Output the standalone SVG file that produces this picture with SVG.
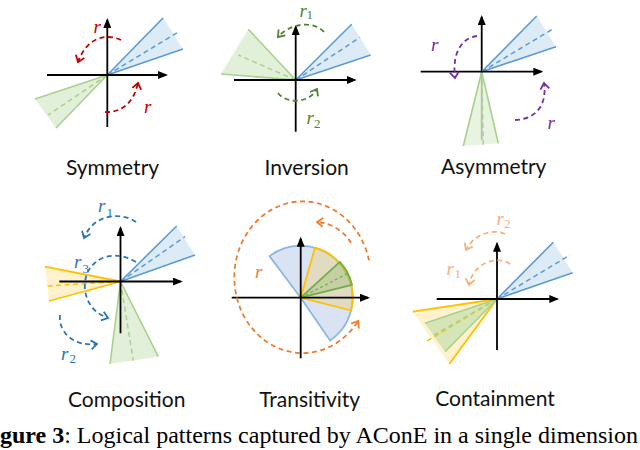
<svg xmlns="http://www.w3.org/2000/svg" width="640" height="450" viewBox="0 0 640 450">
<style>
.ax{stroke:#000;stroke-width:1.8;fill:none;marker-end:url(#axh)}
.bl{fill:#ddebf7;stroke:none}
.ble{stroke:#5b9bd5;stroke-width:1.6;fill:none}
.bld{stroke:#5b9bd5;stroke-width:1.5;fill:none;stroke-dasharray:5 3.5}
.gr{fill:#e2f0d9;stroke:none}
.gre{stroke:#a9d18e;stroke-width:1.6;fill:none}
.grd{stroke:#a9d18e;stroke-width:1.5;fill:none;stroke-dasharray:5 3.5}
.ye{fill:#fff2cc;stroke:none}
.yee{stroke:#ffc000;stroke-width:1.8;fill:none}
.yed{stroke:#ffc000;stroke-width:1.5;fill:none;stroke-dasharray:5 3.5}
.arc{fill:none;stroke-width:1.8;stroke-dasharray:5 3.5}
.lbl{font-family:Lato,"Liberation Sans",sans-serif;font-size:21px;fill:#111;text-anchor:middle}
.ri{font-family:"Liberation Serif",serif;font-style:italic;font-size:19px}
.sub{font-family:"Liberation Serif",serif;font-size:13px}
</style>
<defs>
<marker id="axh" viewBox="0 0 10 8" refX="8" refY="4" markerWidth="10" markerHeight="8" markerUnits="userSpaceOnUse" orient="auto"><path d="M0,0 L10,4 L0,8 Z" fill="#000"/></marker>
<marker id="mr" viewBox="-8 -6 10 12" refX="0" refY="0" markerWidth="10" markerHeight="12" markerUnits="userSpaceOnUse" orient="auto"><path d="M-6,-4.5 L0,0 L-6,4.5" fill="none" stroke="#c00000" stroke-width="1.8"/></marker>
<marker id="mg" viewBox="-8 -6 10 12" refX="0" refY="0" markerWidth="10" markerHeight="12" markerUnits="userSpaceOnUse" orient="auto"><path d="M-6,-4.5 L0,0 L-6,4.5" fill="none" stroke="#548235" stroke-width="1.8"/></marker>
<marker id="mp" viewBox="-8 -6 10 12" refX="0" refY="0" markerWidth="10" markerHeight="12" markerUnits="userSpaceOnUse" orient="auto"><path d="M-6,-4.5 L0,0 L-6,4.5" fill="none" stroke="#7030a0" stroke-width="1.8"/></marker>
<marker id="mb" viewBox="-8 -6 10 12" refX="0" refY="0" markerWidth="10" markerHeight="12" markerUnits="userSpaceOnUse" orient="auto"><path d="M-6,-4.5 L0,0 L-6,4.5" fill="none" stroke="#2e75b6" stroke-width="1.8"/></marker>
<marker id="mo" viewBox="-8 -6 10 12" refX="0" refY="0" markerWidth="10" markerHeight="12" markerUnits="userSpaceOnUse" orient="auto"><path d="M-6,-4.5 L0,0 L-6,4.5" fill="none" stroke="#ed7d31" stroke-width="1.8"/></marker>
<marker id="mk" viewBox="-8 -6 10 12" refX="0" refY="0" markerWidth="10" markerHeight="12" markerUnits="userSpaceOnUse" orient="auto"><path d="M-6,-4.5 L0,0 L-6,4.5" fill="none" stroke="#f4b183" stroke-width="1.8"/></marker>
</defs>

<!-- Symmetry -->
<g id="symmetry">
<polygon class="bl" points="107.3,75 163,18 183,49"/>
<path class="ble" d="M107.3,75 L163,18 M107.3,75 L183,49"/>
<path class="bld" d="M107.3,75 L180,31"/>
<polygon class="gr" points="107.3,75 35,99 56,128"/>
<path class="gre" d="M107.3,75 L35,99 M107.3,75 L56,128"/>
<path class="grd" d="M107.3,75 L48,115"/>
<line class="ax" x1="47" y1="75" x2="166" y2="75"/>
<line class="ax" x1="107.3" y1="127" x2="107.3" y2="20"/>
<text class="lbl" x="112.5" y="175">Symmetry</text>
</g>

<!-- Inversion -->
<g id="inversion">
<polygon class="bl" points="295.7,80 351.7,24.3 370.7,55"/>
<path class="ble" d="M295.7,80 L351.7,24.3 M295.7,80 L370.7,55"/>
<path class="bld" d="M295.7,80 L360,37.3"/>
<polygon class="gr" points="295.7,80 248.3,29.3 221,74"/>
<path class="gre" d="M295.7,80 L248.3,29.3 M295.7,80 L221,74"/>
<path class="grd" d="M295.7,80 L238.3,55"/>
<line class="ax" x1="234" y1="80" x2="354.7" y2="80"/>
<line class="ax" x1="295.7" y1="131.7" x2="295.7" y2="27"/>
<text class="lbl" x="306.7" y="175">Inversion</text>
</g>

<!-- Asymmetry -->
<g id="asymmetry">
<line class="ax" x1="481.7" y1="140" x2="481.7" y2="17"/>
<polygon class="bl" points="481.7,71.7 536.7,16 556,46.7"/>
<path class="ble" d="M481.7,71.7 L536.7,16 M481.7,71.7 L556,46.7"/>
<path class="bld" d="M481.7,71.7 L554,28.3"/>
<polygon class="gr" points="481.7,71.7 463.3,146 498.3,143.3" fill-opacity="0.8"/>
<path class="gre" d="M481.7,71.7 L463.3,146 M481.7,71.7 L498.3,143.3"/>
<path class="grd" d="M481.7,71.7 L483.3,145"/>
<line class="ax" x1="420.7" y1="71.7" x2="541.3" y2="71.7"/>
<text class="lbl" x="493.7" y="174">Asymmetry</text>
</g>

<!-- Composition -->
<g id="composition">
<polygon class="bl" points="120.5,281.5 176.7,226 195,255"/>
<path class="ble" d="M120.5,281.5 L176.7,226 M120.5,281.5 L195,255"/>
<path class="bld" d="M120.5,281.5 L185,236.7"/>
<polygon class="ye" points="120.5,281.5 45,266.7 49,301"/>
<path class="yee" d="M120.5,281.5 L45,266.7 M120.5,281.5 L49,301"/>
<path class="yed" d="M120.5,281.5 L46.7,286"/>
<polygon class="gr" points="120.5,281.5 110,364 158.3,356.7"/>
<path class="gre" d="M120.5,281.5 L110,364 M120.5,281.5 L158.3,356.7"/>
<path class="grd" d="M120.5,281.5 L133.3,360.7"/>
<line class="ax" x1="59.3" y1="281.5" x2="180.7" y2="281.5"/>
<line class="ax" x1="120.5" y1="333.3" x2="120.5" y2="228"/>
<text class="lbl" x="126.7" y="407">Composition</text>
</g>

<!-- Transitivity -->
<g id="transitivity">
<path d="M300.7,297.7 L269.5,256.1 A52 52 0 1 1 330.1,340.6 Z" fill="#dae3f3" stroke="#8db8e2" stroke-width="1.8"/>
<path d="M300.7,297.7 L315,247.7 A52 52 0 0 1 351.1,310.5 Z" fill="#ffc000" fill-opacity="0.2" stroke="#ffc000" stroke-width="1.8"/>
<path d="M300.7,297.7 L339.8,261.9 A53 53 0 0 1 352.1,284.9 Z" fill="#70ad47" fill-opacity="0.25" stroke="#70ad47" stroke-width="1.8"/>
<path d="M300.7,297.7 L348,273.3" stroke="#70ad47" stroke-width="1.2" stroke-dasharray="3 2.5" fill="none"/>
<line class="ax" x1="231.7" y1="297.7" x2="368" y2="297.7"/>
<line class="ax" x1="300.7" y1="358.3" x2="300.7" y2="238.7"/>
<text class="lbl" x="309.7" y="407">Transitivity</text>
</g>

<!-- Containment -->
<g id="containment">
<polygon class="bl" points="497,299 553.3,242.3 572.7,272.7"/>
<path class="ble" d="M497,299 L553.3,242.3 M497,299 L572.7,272.7"/>
<path class="bld" d="M497,299 L570,255"/>
<polygon class="ye" points="497,299 412.7,311.7 449.3,364"/>
<polygon fill="#c5dfae" fill-opacity="0.7" points="497,299 425,323.3 445,351.7"/>
<path class="yee" d="M497,299 L412.7,311.7 M497,299 L449.3,364"/>
<path class="gre" d="M497,299 L425,323.3 M497,299 L445,351.7"/>
<path class="yed" d="M497,299 L424,342.7"/>
<path class="grd" d="M497,299 L434,335"/>
<line class="ax" x1="436.7" y1="299" x2="557.3" y2="299"/>
<line class="ax" x1="497" y1="350" x2="497" y2="243.7"/>
<text class="lbl" x="495" y="406">Containment</text>
</g>

<!-- connectors: relation rotation arcs -->
<g id="connectors">
<path class="arc" stroke="#c00000" marker-end="url(#mr)" d="M121,40 C108,34 88,35 78,62"/>
<path class="arc" stroke="#c00000" marker-end="url(#mr)" d="M105,112 C118,113 133,106 138,83"/>
<path class="arc" stroke="#548235" marker-end="url(#mg)" d="M324,32 C316,22 292,21 278,37"/>
<path class="arc" stroke="#548235" marker-end="url(#mg)" d="M278,93 C285,103 308,105 317,89"/>
<path class="arc" stroke="#7030a0" marker-end="url(#mp)" d="M477,36 C462,38 452,52 455,78"/>
<path class="arc" stroke="#7030a0" marker-end="url(#mp)" d="M515,120 C530,120 548,110 544,83"/>
<path class="arc" stroke="#2e75b6" marker-end="url(#mb)" d="M136,222 C122,212 94,213 84,238"/>
<path class="arc" stroke="#2e75b6" marker-end="url(#mb)" d="M136,262 C110,246 82,262 85,290 C87,305 96,314 108,318"/>
<path class="arc" stroke="#2e75b6" marker-end="url(#mb)" d="M60,315 C58,333 75,347 97,344"/>
<path class="arc" stroke="#ed7d31" marker-end="url(#mo)" d="M369,260.4 A68.2 75.8 0 1 0 358.2,321"/>
<path class="arc" stroke="#ed7d31" marker-end="url(#mo)" d="M351,243 C345,232 332,223 317,222"/>
<path class="arc" stroke="#f4b183" marker-end="url(#mk)" d="M505,234 C495,229 475,232 466,250"/>
<path class="arc" stroke="#f4b183" marker-end="url(#mk)" d="M510,264 C500,256 474,260 469,285"/>
</g>

<g id="labels">
<text class="ri" fill="#c00000" x="93.5" y="33">r</text>
<text class="ri" fill="#c00000" x="144" y="113">r</text>
<text class="ri" fill="#548235" x="299.5" y="16.5" font-size="17">r</text><text class="sub" fill="#548235" x="306.5" y="19" font-size="12">1</text>
<text class="ri" fill="#548235" x="306.5" y="124">r</text><text class="sub" fill="#548235" x="314" y="127.7">2</text>
<text class="ri" fill="#7030a0" x="431" y="50.7">r</text>
<text class="ri" fill="#7030a0" x="547.5" y="129">r</text>
<text class="ri" fill="#2e75b6" x="98" y="211.7">r</text><text class="sub" fill="#2e75b6" x="106.5" y="216.7">1</text>
<text class="ri" fill="#2e75b6" x="74" y="268.3">r</text><text class="sub" fill="#2e75b6" x="82.5" y="272.7">3</text>
<text class="ri" fill="#2e75b6" x="61" y="360">r</text><text class="sub" fill="#2e75b6" x="69.5" y="363.3">2</text>
<text class="ri" fill="#ed7d31" x="255" y="278.3">r</text>
<text class="ri" fill="#f4b183" x="496.5" y="225">r</text><text class="sub" fill="#f4b183" x="504" y="228.3">2</text>
<text class="ri" fill="#f4b183" x="446.5" y="275">r</text><text class="sub" fill="#f4b183" x="454.5" y="278.3">1</text>
</g>

<text id="caption" x="0" y="443" font-family="'Liberation Serif',serif" font-size="24" fill="#000" textLength="638" lengthAdjust="spacing"><tspan font-weight="bold">gure 3</tspan>: Logical patterns captured by AConE in a single dimension</text>
</svg>
